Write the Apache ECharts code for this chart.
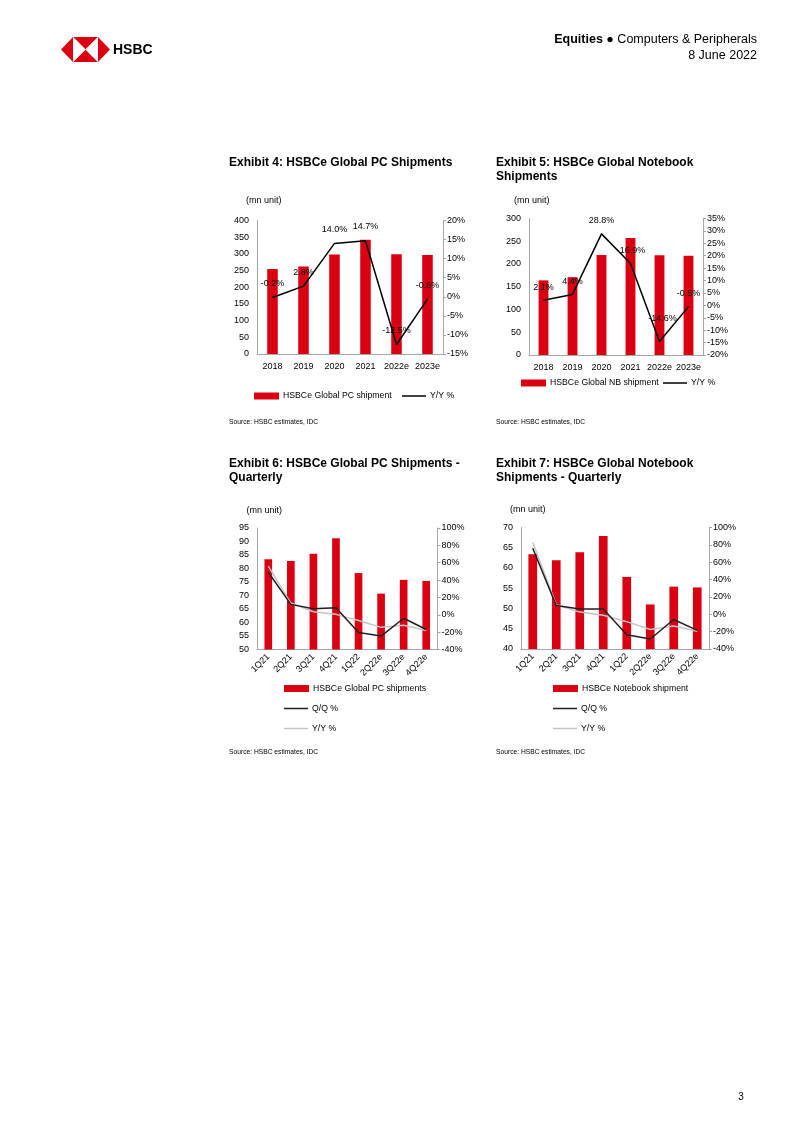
<!DOCTYPE html>
<html>
<head>
<meta charset="utf-8">
<script src="https://cdn.jsdelivr.net/npm/echarts@6/dist/echarts.min.js"></script>
<style>
html,body{margin:0;padding:0;background:#fff;}
#c{width:802px;height:1133px;}
</style>
</head>
<body>
<div id="c"></div>
<script>
// ---- data ----
const years = ['2018', '2019', '2020', '2021', '2022e', '2023e'];
const pcAnnual = [255, 262, 298, 342, 299, 297];
const pcAnnualYoY = [-0.2, 2.8, 14.0, 14.7, -12.5, -0.6];
const nbAnnual = [164, 171, 220, 257, 219, 218];
const nbAnnualYoY = [2.1, 4.4, 28.8, 16.9, -14.6, -0.5];
const quarters = ['1Q21', '2Q21', '3Q21', '4Q21', '1Q22', '2Q22e', '3Q22e', '4Q22e'];
const pcQtr = [83.4, 82.8, 85.5, 91.2, 78.3, 70.7, 75.8, 75.4];
const pcQoQ = [49, 12, 7, 8, -20.5, -24.5, -4, -17];
const pcYoY = [56, 13.5, 3.5, 0.5, -6.5, -14.5, -12, -18];
const nbQtr = [63.4, 61.9, 63.9, 67.9, 57.8, 51.0, 55.4, 55.2];
const nbQoQ = [76, 10, 6, 6, -23.5, -28.5, -6, -18.5];
const nbYoY = [83, 11, 2.5, -1, -8.5, -17.5, -13.5, -19.5];

const legendText = {
  pcBar: 'HSBCe Global PC shipment', pcYoY: 'Y/Y %',
  nbBar: 'HSBCe Global NB shipment', nbYoY: 'Y/Y %',
  pcqBar: 'HSBCe Global PC shipments', pcqQoQ: 'Q/Q %', pcqYoY: 'Y/Y %',
  nbqBar: 'HSBCe Notebook shipment', nbqQoQ: 'Q/Q %', nbqYoY: 'Y/Y %'
};

// ---- styles ----
const RED = '#DB0011';
const AX = '#A6A6A6';
const FONT = '"Liberation Sans", Arial, sans-serif';
const FS = 9;
const LFS = 8.7;

const chart = echarts.init(document.getElementById('c'), null, {renderer: 'canvas'});

function xCat(grid, data, rotate) {
  return {
    type: 'category', gridIndex: grid, data: data,
    axisLine: {show: true, onZero: false, lineStyle: {color: AX, width: 1}},
    axisTick: {show: false},
    axisLabel: {fontSize: FS, color: '#000', margin: rotate ? 6 : 8.5, rotate: rotate || 0, interval: 0}
  };
}
function yLeft(grid, min, max, interval) {
  return {
    type: 'value', gridIndex: grid, min: min, max: max, interval: interval, position: 'left',
    axisLine: {show: true, onZero: false, lineStyle: {color: AX, width: 1}},
    axisTick: {show: false}, splitLine: {show: false},
    axisLabel: {fontSize: FS, color: '#000', margin: 8}
  };
}
function yRight(grid, min, max, interval) {
  return {
    type: 'value', gridIndex: grid, min: min, max: max, interval: interval, position: 'right',
    axisLine: {show: true, onZero: false, lineStyle: {color: AX, width: 1}},
    axisTick: {show: true, inside: false, length: 3, lineStyle: {color: AX}},
    splitLine: {show: false},
    axisLabel: {fontSize: FS, color: '#000', margin: 4, formatter: '{value}%'}
  };
}
function pctLabels(vals, offsets) {
  return vals.map((v, i) => {
    const o = {value: v};
    if (offsets && offsets[i]) o.label = {offset: offsets[i]};
    return o;
  });
}
function txt(x, y, text, opt) {
  opt = opt || {};
  return {
    type: 'text', x: x, y: y, silent: true,
    style: Object.assign({
      text: text, fill: '#000',
      font: (opt.weight || 'normal') + ' ' + (opt.size || 12) + 'px ' + FONT,
      align: opt.align || 'left', verticalAlign: 'middle',
      textAlign: opt.align || 'left', textVerticalAlign: 'middle'
    }, opt.extra || {})
  };
}
function legendOne(left, top, name, isLine) {
  return {
    left: left, top: top, padding: 0, orient: 'horizontal',
    itemWidth: isLine ? 24 : 25, itemHeight: isLine ? 1.5 : 7, selectedMode: false,
    textStyle: {fontSize: LFS, color: '#000', fontFamily: FONT, padding: [0, 0, 0, -1]},
    data: [{name: name, icon: 'rect'}],
    formatter: n => legendText[n]
  };
}

// logo geometry
const L = [61, 49.5], TL = [73, 37], TR = [98, 37], R = [110, 49.5], BR = [98, 62], BL = [73, 62], C = [85.5, 49.5];
const poly = (pts, fill) => ({type: 'polygon', silent: true, shape: {points: pts}, style: {fill: fill}});

const lineLabel = (dist) => ({show: true, position: 'top', distance: dist, fontSize: FS, color: '#000',
  fontFamily: FONT, formatter: p => p.value.toFixed(1) + '%'});

const option = {
  animation: false,
  textStyle: {fontFamily: FONT},
  grid: [
    {left: 257, top: 220.5, width: 186, height: 133.5},
    {left: 529, top: 218.5, width: 174, height: 136.5},
    {left: 257, top: 528, width: 180.5, height: 121.5},
    {left: 521, top: 527.5, width: 188, height: 121.5}
  ],
  xAxis: [
    xCat(0, years), xCat(1, years), xCat(2, quarters, 45), xCat(3, quarters, 45)
  ],
  yAxis: [
    yLeft(0, 0, 400, 50), yRight(0, -15, 20, 5),
    yLeft(1, 0, 300, 50), yRight(1, -20, 35, 5),
    yLeft(2, 50, 95, 5), yRight(2, -40, 100, 20),
    yLeft(3, 40, 70, 5), yRight(3, -40, 100, 20)
  ],
  legend: [
    legendOne(254, 391.5, 'pcBar'),
    legendOne(402, 391.5, 'pcYoY', true),
    legendOne(521, 378.5, 'nbBar'),
    legendOne(663, 378.5, 'nbYoY', true),
    legendOne(284, 684, 'pcqBar'),
    legendOne(284, 704, 'pcqQoQ', true),
    legendOne(284, 724, 'pcqYoY', true),
    legendOne(553, 684, 'nbqBar'),
    legendOne(553, 704, 'nbqQoQ', true),
    legendOne(553, 724, 'nbqYoY', true)
  ],
  series: [
    {name: 'pcBar', type: 'bar', xAxisIndex: 0, yAxisIndex: 0, data: pcAnnual, barWidth: '34%', itemStyle: {color: RED}},
    {name: 'pcYoY', type: 'line', xAxisIndex: 0, yAxisIndex: 1, data: pctLabels(pcAnnualYoY),
      symbol: 'circle', symbolSize: 1, showSymbol: true,
      lineStyle: {color: '#000', width: 1.5}, itemStyle: {color: '#000'},
      label: lineLabel(9)},
    {name: 'nbBar', type: 'bar', xAxisIndex: 1, yAxisIndex: 2, data: nbAnnual, barWidth: '34%', itemStyle: {color: RED}},
    {name: 'nbYoY', type: 'line', xAxisIndex: 1, yAxisIndex: 3,
      data: pctLabels(nbAnnualYoY, [null, null, null, [2, 0], [3, -10], null]),
      symbol: 'circle', symbolSize: 1, showSymbol: true,
      lineStyle: {color: '#000', width: 1.5}, itemStyle: {color: '#000'},
      label: lineLabel(8)},
    {name: 'pcqBar', type: 'bar', xAxisIndex: 2, yAxisIndex: 4, data: pcQtr, barWidth: '34%', itemStyle: {color: RED}},
    {name: 'pcqYoY', type: 'line', xAxisIndex: 2, yAxisIndex: 5, data: pcYoY, symbol: 'none', z: 3,
      lineStyle: {color: '#C4C4C4', width: 1.5}, itemStyle: {color: '#C4C4C4'}},
    {name: 'pcqQoQ', type: 'line', xAxisIndex: 2, yAxisIndex: 5, data: pcQoQ, symbol: 'none', z: 4,
      lineStyle: {color: '#231F20', width: 1.5}, itemStyle: {color: '#231F20'}},
    {name: 'nbqBar', type: 'bar', xAxisIndex: 3, yAxisIndex: 6, data: nbQtr, barWidth: '37%', itemStyle: {color: RED}},
    {name: 'nbqYoY', type: 'line', xAxisIndex: 3, yAxisIndex: 7, data: nbYoY, symbol: 'none', z: 3,
      lineStyle: {color: '#C4C4C4', width: 1.5}, itemStyle: {color: '#C4C4C4'}},
    {name: 'nbqQoQ', type: 'line', xAxisIndex: 3, yAxisIndex: 7, data: nbQoQ, symbol: 'none', z: 4,
      lineStyle: {color: '#231F20', width: 1.5}, itemStyle: {color: '#231F20'}}
  ],
  graphic: [
    poly([L, TL, BL], RED),
    poly([R, TR, BR], RED),
    poly([TL, TR, C], RED),
    poly([BL, BR, C], RED),
    poly([TL, BL, C], '#fff'),
    poly([TR, BR, C], '#fff'),
    txt(113, 50, 'HSBC', {weight: 'bold', size: 14}),
    {
      type: 'text', x: 757, y: 40, silent: true,
      style: {
        text: '{b|Equities} ● Computers & Peripherals', fill: '#000',
        font: 'normal 12.5px ' + FONT, align: 'right', verticalAlign: 'middle',
        textAlign: 'right', textVerticalAlign: 'middle',
        rich: {b: {fontWeight: 'bold', fontSize: 12.5, fontFamily: FONT, fill: '#000', color: '#000'}}
      }
    },
    txt(757, 56, '8 June 2022', {size: 12.5, align: 'right'}),
    txt(229, 163, 'Exhibit 4: HSBCe Global PC Shipments', {weight: 'bold', size: 12}),
    txt(496, 163, 'Exhibit 5: HSBCe Global Notebook', {weight: 'bold', size: 12}),
    txt(496, 177, 'Shipments', {weight: 'bold', size: 12}),
    txt(229, 464, 'Exhibit 6: HSBCe Global PC Shipments -', {weight: 'bold', size: 12}),
    txt(229, 478, 'Quarterly', {weight: 'bold', size: 12}),
    txt(496, 464, 'Exhibit 7: HSBCe Global Notebook', {weight: 'bold', size: 12}),
    txt(496, 478, 'Shipments - Quarterly', {weight: 'bold', size: 12}),
    txt(246, 200.5, '(mn unit)', {size: FS}),
    txt(514, 200.5, '(mn unit)', {size: FS}),
    txt(246.5, 510.5, '(mn unit)', {size: FS}),
    txt(510, 510, '(mn unit)', {size: FS}),
    txt(229, 422, 'Source: HSBC estimates, IDC', {size: 6.7}),
    txt(496, 422, 'Source: HSBC estimates, IDC', {size: 6.7}),
    txt(229, 752, 'Source: HSBC estimates, IDC', {size: 6.7}),
    txt(496, 752, 'Source: HSBC estimates, IDC', {size: 6.7}),
    txt(741, 1097, '3', {size: 10, align: 'center'})
  ]
};
chart.setOption(option);
</script>
</body>
</html>
